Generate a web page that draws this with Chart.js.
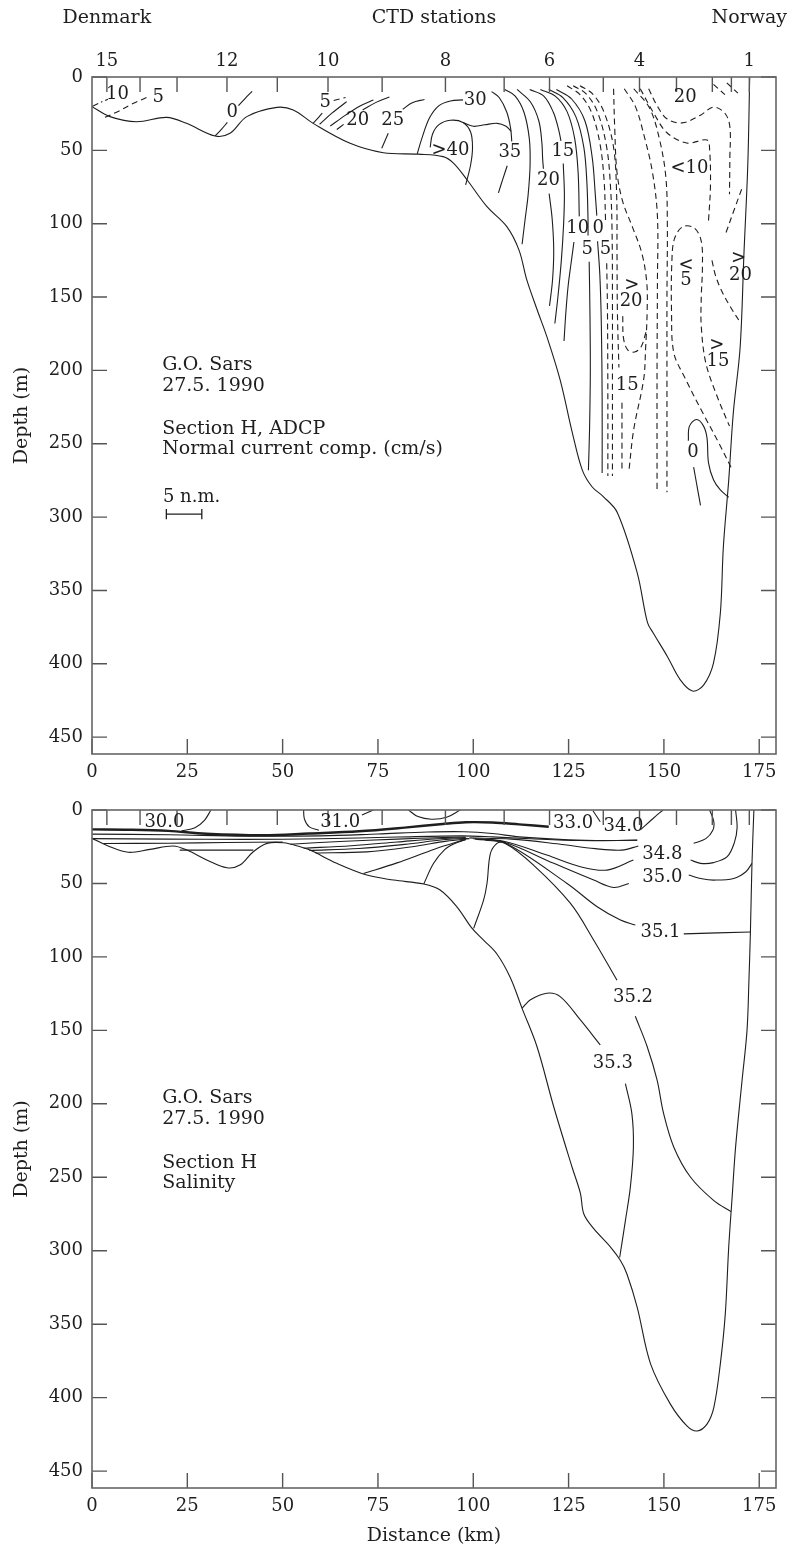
<!DOCTYPE html>
<html>
<head>
<meta charset="utf-8">
<script src="https://cdn.jsdelivr.net/npm/chart.js@4.4.0/dist/chart.umd.min.js"></script>
<style>
  html, body { margin: 0; padding: 0; background: #fff; }
  #wrap { position: relative; width: 792px; height: 1550px; }
  canvas { position: absolute; left: 0; }
  #topChart { top: 0; }
  #botChart { top: 790px; }
</style>
</head>
<body>
<div id="wrap">
  <canvas id="topChart" width="792" height="790"></canvas>
  <canvas id="botChart" width="792" height="760"></canvas>
</div>
<script>
// axes
var distTicks = [0, 25, 50, 75, 100, 125, 150, 175];
var depthTicks = [0, 50, 100, 150, 200, 250, 300, 350, 400, 450];
var stationKm = [3.9, 12.6, 22.3, 35.4, 48.6, 61.9, 76.1, 92.7, 108.1, 120, 134.1, 143.6, 153.3, 162.7, 167.7, 172.4];
var stationNames = ['15', '', '', '12', '', '10', '', '8', '', '6', '', '4', '', '', '', '1'];
var X_MAX = 179.4, Y_MAX = 461.5;

// ---- upper panel: ADCP normal current (km, depth m) ----
var topBed = [[0,20.2],[4.7,27],[11.7,30.5],[19.6,27.5],[24.8,31.6],[32.3,40.2],[36.2,38.4],[40.6,27],[48.5,20.7],[52.8,22.5],[58,31.6],[67.7,45.2],[76.4,51.6],[85.6,52.6],[92.1,54.3],[94.8,58.7],[98.4,70.2],[103.6,88.4],[108.8,102],[112,118],[114,138],[116.8,159],[119.3,177],[122.8,206.6],[126,242.7],[128.6,268],[131.2,279.5],[134.1,286],[137.8,297],[143,338],[145.7,372],[147.2,379],[150.9,395],[154.3,411],[157.5,418.6],[160.4,414.5],[163,399.5],[164.8,365.5],[165.6,320],[167,274.8],[168.2,229],[170,184],[171,120],[172,60],[172.5,0]];
var topC10a = [[0,20.2],[2,17.6],[4.2,15.2]];
var topC5a = [[3.4,27.5],[7,23.3],[10.6,18.3],[14.3,14]];
var topC0lo = [[32.3,40.2],[34,35.5],[35.5,31]];
var topC0hi = [[38.4,19.5],[40.2,14.5],[42,9.8]];
var topC5b = [[58,31.5],[59.5,27.3],[60.4,24.6]];
var topC5bDash = [[63.4,16],[66.5,14]];
var topC10b = [[59.7,32.2],[63,24.5],[66.8,16.8]];
var topC15b = [[62.5,33.4],[66.5,26],[70.3,19.8],[73.8,15.7]];
var topC20lo = [[64.2,35.8],[66,32.3]];
var topC20hi = [[71,22.5],[74.5,17.3],[78,13.6]];
var topC25lo = [[76,48.6],[77.7,38.3]];
var topC25hi = [[81.5,22],[84,17.5],[87.2,15.3]];
var topC30 = [[85.3,52.3],[86.5,42],[88.5,28],[91,19.5],[94,16.3],[97.3,15.6]];
var topC40 = [[88.7,48],[89.3,39],[91,32.5],[94,29.5],[97.3,31],[99.3,37.5],[99.8,48],[99.3,60],[98,73.5]];
var topBump = [[97.3,31],[100,33.6],[103,32.6],[106.3,31.6],[108.6,33.6],[109.9,37]];
var topC35hi = [[104.8,10],[106.8,14],[108.8,24],[109.8,35],[110.1,44]];
var topC35lo = [[108.9,60.5],[107.7,70],[106.6,79]];
var topR30 = [[108.3,8.5],[111,13],[113.3,24],[114.7,42],[114.9,60],[114.4,80],[113.6,97],[112.8,114]];
var topR20hi = [[111.5,8.5],[115,17],[117.2,30],[118,45],[118.2,56],[118.4,62.5]];
var topR20lo = [[119.9,79.5],[120.7,97],[121.1,118],[120.8,138],[120,156]];
var topR15hi = [[114.8,8.5],[118.5,13],[121,24],[122.4,36],[123,43.5]];
var topR15lo = [[123.6,59],[123.9,80],[123.7,100],[123.1,125],[122.2,150],[121.4,168]];
var topR10hi = [[117.6,8.5],[121.5,13],[124.6,23.6],[126.6,42],[127.5,65],[127.8,95]];
var topR10lo = [[126.4,112.5],[125.6,128],[124.9,142],[124.3,160],[123.8,180]];
var topR5hi = [[119.8,8.5],[123.5,14],[126.9,27],[129,48],[129.8,72],[130.1,98],[130.1,108]];
var topR5lo = [[130.4,126],[130.6,160],[130.7,200],[130.5,240],[130.2,268]];
var topR0hi = [[121.8,8.5],[125.8,15],[129.3,30],[131.2,55],[132,80],[132.4,94.5]];
var topR0lo = [[132.6,112],[133.2,135],[133.6,170],[133.8,220],[133.8,270]];
var topD5hi = [[124.6,6],[128,12],[131,24],[133.2,45],[134.3,70],[134.7,98]];
var topD5lo = [[135,127],[135.2,160],[135.3,220],[135.3,272]];
var topD10 = [[126.2,6],[129.6,11.5],[132.6,24],[135,48],[136,75],[136.4,105],[136.5,150],[136.5,210],[136.5,272]];
var topD15hi = [[128,6],[131.3,11.5],[134.3,24],[136.8,48],[137.6,80],[137.7,120],[137.8,160],[138.2,198]];
var topD15lo = [[139,222],[139,245],[139,268]];
var topD20 = [[136.8,8],[137.1,35],[137.7,65],[139.2,85],[141.7,102],[144.2,120],[145.5,140],[145.6,160],[145.2,185],[144.7,206],[142.1,240],[140.8,269]];
var topD20u = [[139.2,163],[139.4,178],[140.5,186],[142.3,187.5],[144,184],[145.3,174]];
var topD1 = [[139.6,8],[142.5,20],[144.8,40],[147,65],[148.3,95],[148.3,140],[148.2,200],[148.2,281]];
var topD2 = [[142.1,8],[146.2,21],[148.8,42],[150.5,68],[150.9,100],[150.8,150],[150.8,210],[150.8,283]];
var topD3 = [[146,8],[148.2,19.5],[150.8,28.5],[154.8,31.3],[159.6,26],[163,20.5],[166,24.7],[167.3,34],[167.3,55],[167.2,80]];
var topD4 = [[143.8,8],[147.3,24.5],[150.8,38],[156,45],[161.3,43],[162,50],[162.2,75],[161.7,98]];
var topE1 = [[167.6,266],[164.5,250],[160,228],[155.5,205],[152.6,188],[152,160],[152.1,125],[152.8,110],[155,102],[158,103],[159.8,112],[160.1,130],[159.8,150],[159.8,170],[161,195],[164,218],[167.2,238]];
var topE3 = [[162.6,125],[163.5,135],[165,145],[167.5,157],[170.2,168]];
var topE4 = [[166.3,106],[168.5,90],[170.6,75]];
var topE5 = [[163,5],[166,12]];
var topE6 = [[166.5,4],[169.4,11]];
var topZ0a = [[156.4,248],[156.7,238],[158.6,233.5],[160.4,238],[161.3,246],[161.7,263],[163,274.5],[164.8,281.5],[167,286.5]];
var topZ0b = [[157.8,266],[158.7,279],[159.6,292]];
var scaleBar = [[19.5,298],[28.8,298]];
var scaleCapL = [[19.5,294.5],[19.5,301.5]];
var scaleCapR = [[28.8,294.5],[28.8,301.5]];

var topLabelText = ['10','5','0','5','20','25','30','>40','35','20','15','10','0','5','5','20','<10','>','20','15','<','5','>','15','>','20','0'];
var topLabelKm = [6.7,17.4,36.8,61.2,69.7,78.9,100.5,94,109.6,119.7,123.5,127.4,132.8,129.9,134.7,155.6,156.7,141.6,141.4,140.4,155.8,155.8,163.9,164.2,169.6,170.1,157.6];
var topLabelDepth = [11.7,13.6,24.4,17.4,29.3,29.8,15.7,50,51.5,70.5,51,103,103,117.5,117.5,13.6,62,142.3,153.2,210.5,128.7,138.4,183.2,194,123.6,135,256];
var topNotes = ['G.O. Sars', '27.5. 1990', 'Section H, ADCP', 'Normal current comp. (cm/s)'];
var noteDepth = [199.7, 213.8, 243.4, 257.1];

// ---- lower panel: salinity (km, depth m) ----
var botBed = [[0,19.3],[4.7,25],[9.5,28.8],[15.2,26.8],[21.3,24.5],[24.9,27.3],[30.1,34],[35.4,39.3],[38.8,37.5],[42.3,28.4],[45.9,22.7],[50.2,22.3],[54.6,25],[57.2,27.3],[64.2,36.3],[72.1,44.3],[79.1,47.7],[87,50.4],[91.3,54.5],[95.7,65.9],[99.7,80.6],[102.7,88.6],[106.2,98],[109.7,114],[112.8,135],[116.7,161],[121.1,202],[125.9,243],[128.1,261],[129,275],[131.6,285],[136,297.5],[138.6,306.7],[140.3,315.8],[143,338.5],[146.5,377],[151.7,404.4],[156.1,419.4],[158.7,422.7],[161.3,418],[163.1,406.6],[164.8,377],[166.1,343],[167,297.5],[167.9,263.4],[168.8,229.5],[170.5,184],[171.8,150],[172.3,116],[172.7,82],[173.1,36.3],[173.6,0]];
var botThick = [[0,13.2],[10,13.4],[20,14.2],[30,16.2],[45,17.2],[57,16],[70,14.5],[82,12],[92,9.5],[98,8.3],[105,8.5],[112,9.8],[119.8,11.4]];
var botL2 = [[0,16.4],[20,16.8],[40,17.8],[60,17.6],[75,16.3],[88,15],[97.5,14.8],[105,16],[112,18.3],[125,20.3],[135,20.8],[143,20.5]];
var botL3 = [[0,19.5],[20,19.8],[40,20],[60,19.6],[80,18.4],[97,17.6],[105,18.3],[115,19.6],[128,20.8],[143,20.6]];
var botL4 = [[3,22.8],[20,22.6],[35,22.1],[50,21.8]];
var botDip = [[23,27.3],[42.3,27.3]];
var botS1 = [[52,23.3],[65,21.4],[80,19.8],[92,18.8],[98,18.4]];
var botS2 = [[55.5,26],[68,24.3],[80,21.8],[90,19.7],[98,18.8]];
var botS3 = [[57,27.5],[70,26.2],[82,23.4],[92,20.3],[98.5,19.2]];
var botS4 = [[58.6,29.3],[72,28.5],[84,25],[93,21.2],[99,19.5]];
var botS5 = [[71.2,43.2],[80,36],[90,26.5],[98,20]];
var botS6 = [[87,50.4],[89.6,36.3],[92.5,27],[95,23],[98,20.2]];
var botS7 = [[100.1,80.6],[102.7,61.3],[103.6,50],[104.5,29.5],[106.2,22.7],[108,21.6]];
var botF1 = [[99,19],[110,19.8],[122,23],[132,26.3],[139,27.3],[143.3,24.5]];
var botF348 = [[100,19.6],[108,21.3],[119.3,30.7],[128.1,38.6],[135.1,40.9],[142,34.1]];
var botF350 = [[100.5,19.9],[108,21.8],[121.1,36.3],[131.6,47.7],[136.8,52.7],[140.8,50]];
var botF351 = [[101,20.1],[108,22],[124.6,50],[132.5,65.9],[138.6,74.9],[142.5,78.3]];
var botF352 = [[103,20.4],[108.5,23],[116,38],[125.5,63.6],[131.6,88.6],[137.7,115.9]];
var bot352lo = [[142.5,140.4],[145.6,161],[148.2,183.7],[149.9,206.4],[152.6,229.5],[157,250],[163.1,265.9],[167.6,273.4]];
var bot353hi = [[112.8,135],[115,129.2],[119.3,124.7],[122.8,127],[128.1,142.9],[133.3,159.9]];
var bot353lo = [[139.9,186.3],[141.6,206.7],[142,229.5],[141.2,256.7],[139.9,279.5],[138.4,304.6]];
var botArc30 = [[23.5,14.2],[27,12],[29.5,7],[31.2,0]];
var botArc31a = [[55.5,0],[55.7,6],[57,11.5],[59.5,13.8]];
var botArc31b = [[70.8,3.4],[73.8,0]];
var botArc32 = [[83,0],[85.5,4.5],[89,6.3],[93,5],[96.6,0]];
var botArc33 = [[131.4,0.5],[133.3,8]];
var botArc34 = [[143.8,13.5],[146.2,8],[148.6,2.5],[149.8,0]];
var botRa = [[162,0],[163.1,8],[162.8,14],[161,19.5],[157.8,22.7]];
var botRb = [[168.8,0],[169.2,12],[168.5,22],[166.6,31.8],[163,35.8],[159.6,36.3],[157,34.1]];
var botRc = [[156.5,44.3],[160,46.8],[163.1,47.7],[168.3,46.6],[171.5,42],[173.1,36.3]];
var botRd = [[155.2,84.3],[172.7,83]];

var botLabelText = ['30.0','31.0','33.0','34.0','34.8','35.0','35.1','35.2','35.3'];
var botLabelKm = [19, 65.1, 126.2, 139.4, 149.6, 149.6, 149.1, 141.9, 136.6];
var botLabelDepth = [8.2, 8.5, 9.1, 11.4, 30, 45.5, 83.5, 127.8, 172.6];
var botNotes = ['G.O. Sars', '27.5. 1990', 'Section H', 'Salinity'];

var FONT = '"DejaVu Serif", serif';
var INK = '#1e1e1e';
var DASH = [6, 4];

function lineSet(pts, dash, width) {
  return {
    data: pts.map(function(p) { return {x: p[0], y: p[1]}; }),
    showLine: true, pointRadius: 0, fill: false,
    borderColor: INK, borderWidth: width || 1.1,
    borderDash: dash || [], tension: 0.35
  };
}

function framePlugin(cfg) {
  return {
    id: 'frame',
    afterDraw: function(chart) {
      var ctx = chart.ctx, a = chart.chartArea;
      var xs = chart.scales.x, ys = chart.scales.y;
      ctx.save();
      // inward tick marks
      ctx.strokeStyle = '#555';
      ctx.lineWidth = 1.4;
      ctx.beginPath();
      depthTicks.forEach(function(v) {
        var y = ys.getPixelForValue(v);
        ctx.moveTo(a.left, y); ctx.lineTo(a.left + 15, y);
        ctx.moveTo(a.right, y); ctx.lineTo(a.right - 15, y);
      });
      distTicks.forEach(function(v) {
        var x = xs.getPixelForValue(v);
        ctx.moveTo(x, a.bottom); ctx.lineTo(x, a.bottom - 15);
      });
      stationKm.forEach(function(v) {
        var x = xs.getPixelForValue(v);
        ctx.moveTo(x, a.top); ctx.lineTo(x, a.top + 15);
      });
      ctx.stroke();
      ctx.strokeStyle = '#666';
      ctx.lineWidth = 1.6;
      ctx.strokeRect(a.left, a.top, a.right - a.left, a.bottom - a.top);

      // contour labels
      ctx.fillStyle = INK;
      ctx.font = '18px ' + FONT;
      ctx.textAlign = 'center';
      ctx.textBaseline = 'middle';
      cfg.labelText.forEach(function(t, i) {
        ctx.fillText(t, xs.getPixelForValue(cfg.labelKm[i]), ys.getPixelForValue(cfg.labelDepth[i]));
      });

      // notes block
      ctx.font = '19px ' + FONT;
      ctx.textAlign = 'left';
      ctx.textBaseline = 'alphabetic';
      cfg.notes.forEach(function(t, i) {
        ctx.fillText(t, xs.getPixelForValue(18.4), ys.getPixelForValue(noteDepth[i]));
      });
      if (cfg.scaleText) {
        ctx.font = '18px ' + FONT;
        ctx.fillText(cfg.scaleText, xs.getPixelForValue(18.6), ys.getPixelForValue(290));
      }

      // header
      if (cfg.header) {
        ctx.font = '19px ' + FONT;
        ctx.textAlign = 'center';
        ctx.textBaseline = 'middle';
        var hy = a.top - 59;
        ctx.fillText('Denmark', xs.getPixelForValue(stationKm[0]), hy);
        ctx.fillText('CTD stations', (a.left + a.right) / 2, hy);
        ctx.fillText('Norway', xs.getPixelForValue(stationKm[stationKm.length - 1]), hy);
      }
      ctx.restore();
    }
  };
}

function buildChart(id, cfg) {
  var tickFont = {family: FONT, size: 18};
  return new Chart(document.getElementById(id), {
    type: 'scatter',
    data: {datasets: cfg.lines.map(function(l) { return lineSet(l[0], l[1], l[2]); })},
    options: {
      responsive: false,
      animation: false,
      layout: {padding: {left: 0, right: 16, top: 0, bottom: 0}},
      plugins: {legend: {display: false}, tooltip: {enabled: false}},
      scales: {
        x: {
          type: 'linear', position: 'bottom', min: 0, max: X_MAX,
          afterBuildTicks: function(s) { s.ticks = distTicks.map(function(v) { return {value: v}; }); },
          afterFit: function(s) { s.height = cfg.height - cfg.plotBottom; },
          grid: {display: false, drawTicks: false},
          border: {display: false},
          ticks: {font: tickFont, color: INK, padding: 8, maxRotation: 0, autoSkip: false},
          title: {display: !!cfg.xTitle, text: cfg.xTitle || '', font: {family: FONT, size: 19}, color: INK, padding: {top: 0, bottom: 3}}
        },
        x2: {
          type: 'linear', position: 'top', min: 0, max: X_MAX,
          afterBuildTicks: function(s) { s.ticks = stationKm.map(function(v) { return {value: v}; }); },
          afterFit: function(s) { s.height = cfg.plotTop; },
          grid: {display: false, drawTicks: false},
          border: {display: false},
          ticks: {display: cfg.header, font: tickFont, color: INK, padding: 5, maxRotation: 0, autoSkip: false,
                  callback: function(v, i) { return stationNames[i]; }}
        },
        y: {
          type: 'linear', position: 'left', reverse: true, min: 0, max: Y_MAX,
          afterBuildTicks: function(s) { s.ticks = depthTicks.map(function(v) { return {value: v}; }); },
          afterFit: function(s) { s.width = 92; },
          grid: {display: false, drawTicks: false},
          border: {display: false},
          ticks: {font: tickFont, color: INK, padding: 9},
          title: {display: true, text: 'Depth (m)', font: {family: FONT, size: 19}, color: INK, padding: {top: 11, bottom: 0}}
        }
      }
    },
    plugins: [framePlugin(cfg)]
  });
}

var S = null;
buildChart('topChart', {
  height: 790, plotTop: 77, plotBottom: 754, header: true,
  labelText: topLabelText, labelKm: topLabelKm, labelDepth: topLabelDepth,
  notes: topNotes, scaleText: '5 n.m.',
  lines: [
    [topBed], [topC10a, [7, 3, 1.5, 3]], [topC5a, DASH], [topC0lo], [topC0hi], [topC5b], [topC5bDash, DASH],
    [topC10b], [topC15b], [topC20lo], [topC20hi], [topC25lo], [topC25hi], [topC30], [topC40], [topBump],
    [topC35hi], [topC35lo], [topR30], [topR20hi], [topR20lo], [topR15hi], [topR15lo], [topR10hi], [topR10lo],
    [topR5hi], [topR5lo], [topR0hi], [topR0lo],
    [topD5hi, DASH], [topD5lo, DASH], [topD10, DASH], [topD15hi, DASH], [topD15lo, DASH], [topD20, DASH],
    [topD20u, DASH], [topD1, DASH], [topD2, DASH], [topD3, DASH], [topD4, DASH], [topE1, DASH], [topE3, DASH],
    [topE4, DASH], [topE5, DASH], [topE6, DASH], [topZ0a], [topZ0b],
    [scaleBar, null, 1.3], [scaleCapL, null, 1.3], [scaleCapR, null, 1.3]
  ]
});

buildChart('botChart', {
  height: 760, plotTop: 20, plotBottom: 698, header: false, xTitle: 'Distance (km)',
  labelText: botLabelText, labelKm: botLabelKm, labelDepth: botLabelDepth,
  notes: botNotes,
  lines: [
    [botBed], [botThick, null, 2.4], [botL2], [botL3], [botL4], [botDip],
    [botS1], [botS2], [botS3], [botS4], [botS5], [botS6], [botS7],
    [botF1], [botF348], [botF350], [botF351], [botF352], [bot352lo], [bot353hi], [bot353lo],
    [botArc30], [botArc31a], [botArc31b], [botArc32], [botArc33], [botArc34],
    [botRa], [botRb], [botRc], [botRd]
  ]
});
</script>
</body>
</html>
